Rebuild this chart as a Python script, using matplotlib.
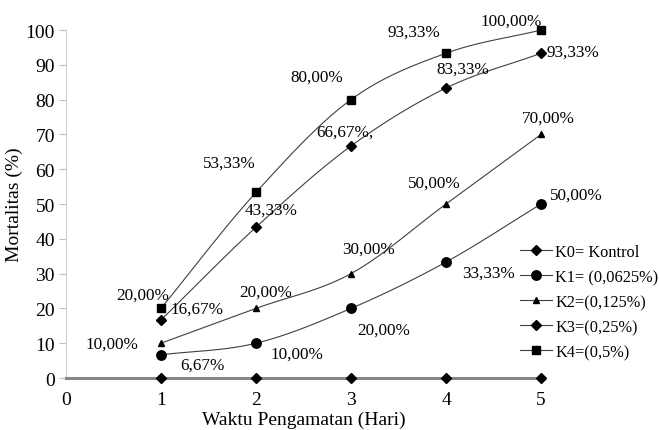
import matplotlib.pyplot as plt
import numpy as np

plt.rcParams['font.family'] = ['Liberation Serif', 'DejaVu Serif']

# data
hari = [1, 2, 3, 4, 5]
k0 = [0, 0, 0, 0, 0]
k1 = [6.67, 10.00, 20.00, 33.33, 50.00]
k2 = [10.00, 20.00, 30.00, 50.00, 70.00]
k3 = [16.67, 43.33, 66.67, 83.33, 93.33]
k4 = [20.00, 53.33, 80.00, 93.33, 100.00]

nama = ['K0= Kontrol', 'K1= (0,0625%)', 'K2=(0,125%)', 'K3=(0,25%)', 'K4=(0,5%)']

# label text and offset (pixels) for each series
teks_k1 = ['6,67%', '10,00%', '20,00%', '33,33%', '50,00%']
teks_k2 = ['10,00%', '20,00%', '30,00%', '50,00%', '70,00%']
teks_k3 = ['16,67%', '43,33%', '66,67%,', '83,33%', '93,33%']
teks_k4 = ['20,00%', '53,33%', '80,00%', '93,33%', '100,00%']
geser_k1 = [(42, -10), (41, -10), (33, -21), (42, -11), (35, 9)]
geser_k2 = [(-49, 0), (10, 17), (18, 25), (-12, 21), (7, 17)]
geser_k3 = [(36, 11), (15, 18), (-6, 14), (17, 19), (32, 2)]
geser_k4 = [(-18, 14), (-27, 30), (-34, 23), (-32, 22), (-30, 9)]


def halus(x, y, n=30):
    # catmull-rom curve through the points
    x = np.asarray(x, float)
    y = np.asarray(y, float)
    p = np.column_stack([x, y])
    p = np.vstack([2 * p[0] - p[1], p, 2 * p[-1] - p[-2]])
    out = []
    t = np.linspace(0, 1, n)[:, None]
    for i in range(1, len(p) - 2):
        p0, p1, p2, p3 = p[i - 1], p[i], p[i + 1], p[i + 2]
        c = 0.5 * ((2 * p1) + (-p0 + p2) * t + (2 * p0 - 5 * p1 + 4 * p2 - p3) * t ** 2
                   + (-p0 + 3 * p1 - 3 * p2 + p3) * t ** 3)
        out.append(c if i == 1 else c[1:])
    c = np.vstack(out)
    return c[:, 0], c[:, 1]


fig = plt.figure(figsize=(6.59, 4.31), dpi=100)
ax = fig.add_axes([0.100, 0.1206, 0.721, 0.8074])

garis = '#404040'
seri = [
    (k0, 'D', 5.2, None, None),
    (k1, 'o', 6.8, teks_k1, geser_k1),
    (k2, '^', 4.5, teks_k2, geser_k2),
    (k3, 'D', 5.2, teks_k3, geser_k3),
    (k4, 's', 6.2, teks_k4, geser_k4),
]

handles = []
for (y, m, ms, teks, geser), lbl in zip(seri, nama):
    xs, ys = halus(hari, y)
    ax.plot(xs, ys, color=garis, lw=0.8, clip_on=False, zorder=3)
    ax.plot(hari, y, linestyle='none', marker=m, ms=ms, color='black',
            clip_on=False, zorder=4)
    # legend proxy
    h, = ax.plot([], [], color=garis, lw=0.8, marker=m, ms=ms,
                 markerfacecolor='black', markeredgecolor='black', label=lbl)
    handles.append(h)
    if teks:
        for xi, yi, t, (dx, dy) in zip(hari, y, teks, geser):
            ax.annotate(t, (xi, yi), xytext=(dx * 0.72, dy * 0.72),
                        textcoords='offset points', ha='center', va='center',
                        fontsize=12.3, zorder=5)

ax.set_xlim(0, 5)
ax.set_ylim(0, 100)
ax.set_xticks(range(0, 6))
ax.set_yticks(range(0, 101, 10))
ax.tick_params(axis='x', length=0, labelsize=14, pad=9)
ax.tick_params(axis='y', length=5, color='#bfbfbf', labelsize=14, pad=3)

for s in ['top', 'right']:
    ax.spines[s].set_visible(False)
ax.spines['left'].set_color('#d0d0d0')
ax.spines['bottom'].set_color('#868686')
ax.spines['bottom'].set_linewidth(2.2)
ax.spines['bottom'].set_zorder(3.5)

ax.set_xlabel('Waktu Pengamatan (Hari)', fontsize=14, labelpad=2)
ax.set_ylabel('Mortalitas (%)', fontsize=14, labelpad=2)

fig.legend(handles=handles, loc='center left', bbox_to_anchor=(0.789, 0.297),
           bbox_transform=fig.transFigure, frameon=False, fontsize=11.8,
           handlelength=1.95, handletextpad=0.2, labelspacing=0.55,
           borderpad=0, borderaxespad=0)

fig.savefig('out.png', dpi=100)
